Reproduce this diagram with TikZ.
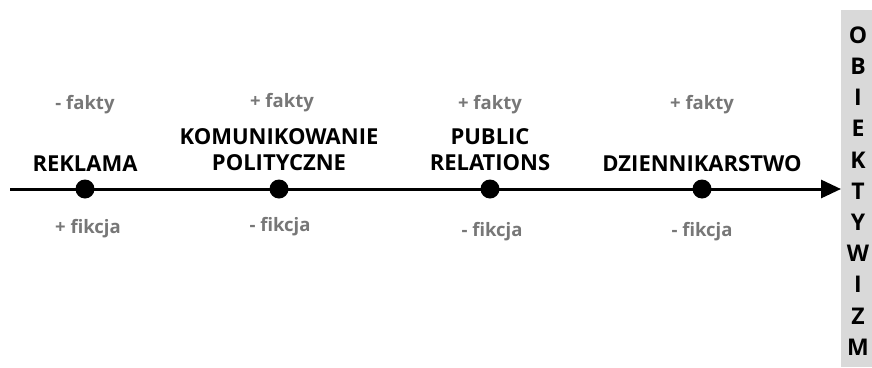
\documentclass[tikz,border=0pt]{standalone}
\usepackage{fontspec}
\setmainfont{Open Sans}
\usetikzlibrary{arrows.meta}

\definecolor{labelgray}{HTML}{777777}
\definecolor{boxgray}{HTML}{D9D9D9}

\tikzset{
  field/.style={font=\bfseries\fontsize{22}{26}\selectfont, align=center, inner sep=0pt},
  plusminus/.style={font=\bfseries\fontsize{18.5}{21}\selectfont, text=labelgray, inner sep=0pt},
  dot/.style={circle, fill=black, minimum size=19pt, inner sep=0pt},
  letter/.style={font=\bfseries\fontsize{23}{25}\selectfont, inner sep=0pt}
}

\begin{document}
\begin{tikzpicture}[x=1pt, y=-1pt]
  \useasboundingbox (0,0) rectangle (872,367);

  % Objektywizm
  \fill[boxgray] (841,10) rectangle (872,367);
  \foreach \ch [count=\i from 0] in {O,B,I,E,K,T,Y,W,I,Z,M}
    \node[letter] (o\i) at (858,35+31.2*\i) {\ch};

  % Os
  \coordinate (start) at (10,189);
  \coordinate (end) at (841,189);
  \draw[line width=3pt, -{Triangle[length=20pt,width=18pt]}] (start) -- (end);

  % Reklama
  \node[dot] (rek) at (85,189) {};
  \node[field] at (85,164) {REKLAMA};
  \node[plusminus] at (85,105) {- fakty};
  \node[plusminus] at (88,229) {+ fikcja};

  % Komunikowanie polityczne
  \node[dot] (kom) at (279,189) {};
  \node[field] at (279,150) {KOMUNIKOWANIE\\POLITYCZNE};
  \node[plusminus] at (282,103) {+ fakty};
  \node[plusminus] at (280,227) {- fikcja};

  % Public relations
  \node[dot] (pr) at (490,189) {};
  \node[field] at (490,150) {PUBLIC\\RELATIONS};
  \node[plusminus] at (490,105) {+ fakty};
  \node[plusminus] at (492,232) {- fikcja};

  % Dziennikarstwo
  \node[dot] (dzi) at (702,189) {};
  \node[field] at (702,164) {DZIENNIKARSTWO};
  \node[plusminus] at (702,105) {+ fakty};
  \node[plusminus] at (702,232) {- fikcja};
\end{tikzpicture}
\end{document}
